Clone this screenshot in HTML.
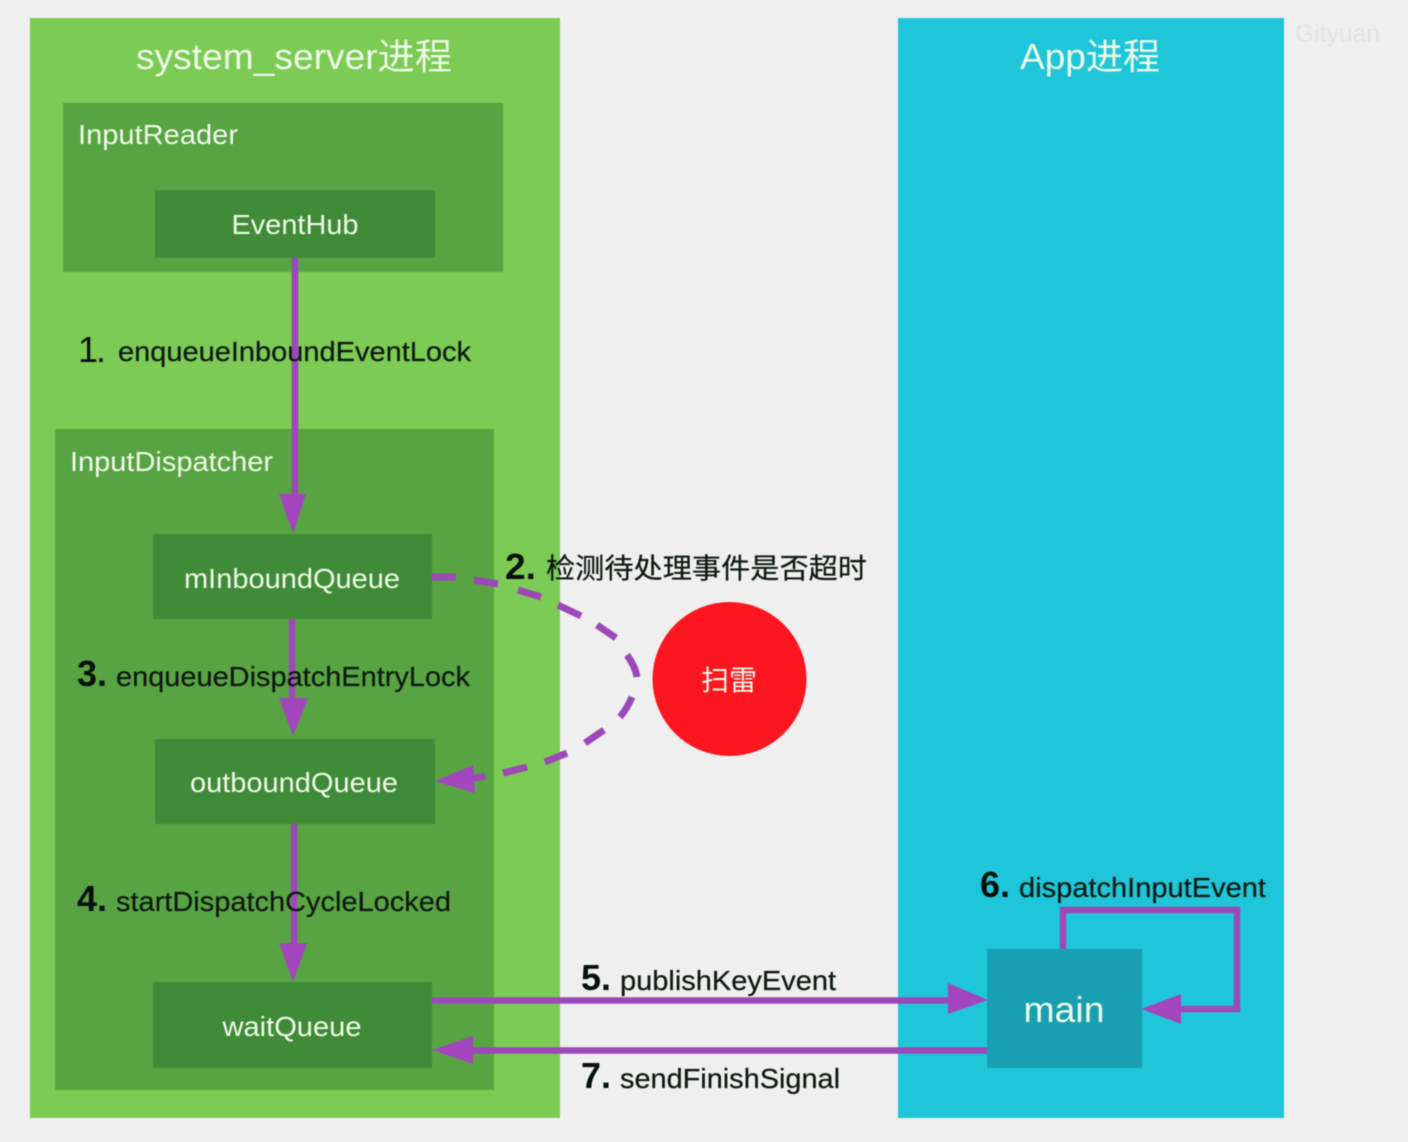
<!DOCTYPE html>
<html>
<head>
<meta charset="utf-8">
<style>
html,body{margin:0;padding:0;background:#efefef;width:1408px;height:1142px;overflow:hidden}
svg{display:block;filter:blur(.6px)}
text{font-family:"Liberation Sans","Noto Sans CJK SC",sans-serif}
.w{fill:#effae8}
.k{fill:#0f1a12;font-size:28px;stroke:#0f1a12;stroke-width:.25px}
.n{fill:#07100a;font-size:36px;font-weight:bold}
.l{fill:none;stroke:#9c48b8;stroke-width:6.500}
.d{fill:none;stroke:#9c48b8;stroke-width:7}
.a{fill:#a345bd}
</style>
</head>
<body>
<svg width="1408" height="1142" viewBox="0 0 1408 1142" xmlns="http://www.w3.org/2000/svg">
<rect width="1408" height="1142" fill="#efefef"/>
<rect x="30" y="18" width="530" height="1100" fill="#7ccb54"/>
<rect x="898" y="18" width="386" height="1100" fill="#1fc6da"/>
<rect x="63" y="103" width="440" height="169" fill="#58a443"/>
<rect x="55" y="429" width="439" height="661" fill="#58a443"/>
<rect x="155" y="190" width="280" height="68" fill="#408b38"/>
<rect x="153" y="534" width="279" height="85" fill="#408b38"/>
<rect x="155" y="739" width="280" height="85" fill="#408b38"/>
<rect x="153" y="982" width="279" height="86" fill="#408b38"/>
<rect x="987" y="949" width="155" height="119" fill="#189fb2"/>
<circle cx="729.500" cy="679" r="77" fill="#fb1620"/>

<text class="w" x="294" y="69" font-size="36" text-anchor="middle" textLength="316" lengthAdjust="spacingAndGlyphs">system_server进程</text>
<text class="w" x="1090" y="69" font-size="36" text-anchor="middle" textLength="140" lengthAdjust="spacingAndGlyphs">App进程</text>
<text x="1295" y="42" font-size="25" fill="#e2e2e2" textLength="85" lengthAdjust="spacingAndGlyphs">Gityuan</text>
<text class="w" x="78" y="144" font-size="28" textLength="160" lengthAdjust="spacingAndGlyphs">InputReader</text>
<text class="w" x="295" y="234" font-size="28" text-anchor="middle" textLength="127" lengthAdjust="spacingAndGlyphs">EventHub</text>
<text class="w" x="70" y="471" font-size="28" textLength="203" lengthAdjust="spacingAndGlyphs">InputDispatcher</text>
<text class="w" x="292" y="588" font-size="28" text-anchor="middle" textLength="216" lengthAdjust="spacingAndGlyphs">mInboundQueue</text>
<text class="w" x="294" y="792" font-size="28" text-anchor="middle" textLength="208" lengthAdjust="spacingAndGlyphs">outboundQueue</text>
<text class="w" x="292" y="1036" font-size="28" text-anchor="middle" textLength="139" lengthAdjust="spacingAndGlyphs">waitQueue</text>
<text class="w" x="1064" y="1022" font-size="36" text-anchor="middle" textLength="81" lengthAdjust="spacingAndGlyphs">main</text>
<text class="w" x="729" y="690" font-size="28" text-anchor="middle" textLength="56" lengthAdjust="spacingAndGlyphs">扫雷</text>

<path class="l" d="M295 258V500"/>
<polygon class="a" points="279,494 306,494 293,533"/>
<path class="l" d="M292 619V705"/>
<polygon class="a" points="279,698 308,698 293,736"/>
<path class="l" d="M294 824V950"/>
<polygon class="a" points="279,943 307,943 293,982"/>

<path class="d" d="M432 577H456M474 580L498 584M518 590L541 597M558 605L581 616M597 625L616 638M627 655C633 664 636 670 637 677M632 697C629 704 625 711 620 717M604 730L585 743M567 753L545 762M527 767L503 773M485 776L470 779"/>
<polygon class="a" points="435,781 473,765 475,793"/>

<path class="l" d="M432 1000.500H955"/>
<polygon class="a" points="948,983 948,1014 988,1000"/>
<path class="l" d="M987 1050.500H468"/>
<polygon class="a" points="473,1036 473,1064 432,1050"/>
<path class="l" d="M1063 949V910H1237V1009H1175"/>
<polygon class="a" points="1181,994 1181,1024 1141,1009"/>

<text class="n" x="78" y="362" style="font-weight:normal" textLength="28" lengthAdjust="spacing">1.</text>
<text class="k" x="118" y="361" textLength="353" lengthAdjust="spacingAndGlyphs">enqueueInboundEventLock</text>
<text class="n" x="505" y="579" textLength="31" lengthAdjust="spacingAndGlyphs">2.</text>
<text class="k" x="546" y="578" textLength="321" lengthAdjust="spacingAndGlyphs">检测待处理事件是否超时</text>
<text class="n" x="77" y="686" textLength="30" lengthAdjust="spacingAndGlyphs">3.</text>
<text class="k" x="116" y="686" textLength="354" lengthAdjust="spacingAndGlyphs">enqueueDispatchEntryLock</text>
<text class="n" x="77" y="911" textLength="30" lengthAdjust="spacingAndGlyphs">4.</text>
<text class="k" x="116" y="911" textLength="335" lengthAdjust="spacingAndGlyphs">startDispatchCycleLocked</text>
<text class="n" x="581" y="990" textLength="30" lengthAdjust="spacingAndGlyphs">5.</text>
<text class="k" x="620" y="990" textLength="216" lengthAdjust="spacingAndGlyphs">publishKeyEvent</text>
<text class="n" x="980" y="897" textLength="30" lengthAdjust="spacingAndGlyphs">6.</text>
<text class="k" x="1019" y="897" textLength="247" lengthAdjust="spacingAndGlyphs">dispatchInputEvent</text>
<text class="n" x="581" y="1088" textLength="30" lengthAdjust="spacingAndGlyphs">7.</text>
<text class="k" x="620" y="1088" textLength="220" lengthAdjust="spacingAndGlyphs">sendFinishSignal</text>
</svg>
</body>
</html>
